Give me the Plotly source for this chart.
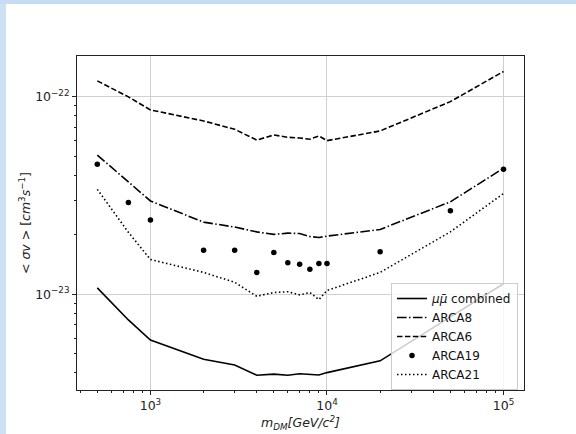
import numpy as np
import plotly.graph_objects as go

# ---- data ----
mass = [500, 750, 1000, 2000, 3000, 4000, 5000, 6000, 7000, 8000, 9000, 10000, 20000, 50000, 100000]

combined = [1.078e-23, 7.41e-24, 5.86e-24, 4.69e-24, 4.38e-24, 3.89e-24, 3.94e-24, 3.89e-24,
            3.96e-24, 3.91e-24, 3.90e-24, 4.01e-24, 4.6e-24, 7.68e-24, 1.13e-23]
arca8 = [5.07e-23, 3.71e-23, 2.97e-23, 2.32e-23, 2.19e-23, 2.07e-23, 2.01e-23, 2.04e-23,
         2.03e-23, 1.96e-23, 1.94e-23, 1.97e-23, 2.13e-23, 2.94e-23, 4.35e-23]
arca6 = [1.205e-22, 1.0e-22, 8.59e-23, 7.55e-23, 6.85e-23, 6.04e-23, 6.41e-23, 6.24e-23,
         6.19e-23, 6.1e-23, 6.34e-23, 6.0e-23, 6.72e-23, 9.46e-23, 1.345e-22]
arca19 = [4.55e-23, 2.92e-23, 2.38e-23, 1.67e-23, 1.67e-23, 1.29e-23, 1.63e-23, 1.445e-23,
          1.42e-23, 1.34e-23, 1.43e-23, 1.43e-23, 1.64e-23, 2.65e-23, 4.3e-23]
arca21 = [3.40e-23, 2.06e-23, 1.50e-23, 1.29e-23, 1.15e-23, 9.77e-24, 1.02e-23, 1.03e-23,
          9.93e-24, 1.02e-23, 9.4e-24, 1.045e-23, 1.29e-23, 2.07e-23, 3.24e-23]

x_tick_vals = [1e3, 1e4, 1e5]
x_tick_text = ["10<sup>3</sup>", "10<sup>4</sup>", "10<sup>5</sup>"]
y_tick_vals = [1e-23, 1e-22]
y_tick_text = ["10<sup>−23</sup>", "10<sup>−22</sup>"]

FONT = "DejaVu Sans"

fig = go.Figure()
fig.add_trace(go.Scatter(x=mass, y=combined, mode="lines", name="<i>μμ\u0304</i> combined",
                         line=dict(color="black", width=1.6)))
fig.add_trace(go.Scatter(x=mass, y=arca8, mode="lines", name="ARCA8",
                         line=dict(color="black", width=1.6, dash="9.6px,2.4px,1.5px,2.4px")))
fig.add_trace(go.Scatter(x=mass, y=arca6, mode="lines", name="ARCA6",
                         line=dict(color="black", width=1.6, dash="5.5px,2.4px")))
fig.add_trace(go.Scatter(x=mass, y=arca19, mode="markers", name="ARCA19",
                         marker=dict(color="black", size=5.5)))
fig.add_trace(go.Scatter(x=mass, y=arca21, mode="lines", name="ARCA21",
                         line=dict(color="black", width=1.6, dash="1.5px,2.5px")))

minor_x = [m * 10 ** e for e in range(2, 6) for m in range(2, 10)]
minor_y = [m * 10.0 ** e for e in range(-24, -21) for m in range(2, 10)]

# plot area pixel box
L, R, T, B = 77, 52, 56, 44
W, H = 576, 434
pw, ph = W - L - R, H - T - B

def px_x(px):
    return (px - L) / pw

def px_y(py):
    return 1 - (py - T) / ph

fig.update_layout(
    width=W, height=H,
    margin=dict(l=L, r=R, t=T, b=B, pad=0, autoexpand=False),
    paper_bgcolor="white", plot_bgcolor="white",
    font=dict(family=FONT, size=12, color="#222"),
    showlegend=True,
    legend=dict(x=px_x(391), y=px_y(283), xanchor="left", yanchor="top",
                bgcolor="rgba(255,255,255,0.8)", bordercolor="#cccccc", borderwidth=1,
                font=dict(family=FONT, size=12, color="#111"),
                itemwidth=30, tracegroupgap=0),
    xaxis=dict(type="log", range=[2.584, 5.116], tickvals=x_tick_vals, ticktext=x_tick_text,
               automargin=False,
               ticks="outside", ticklen=4, tickwidth=1, tickcolor="#222",
               showgrid=True, gridcolor="#d0d0d0", gridwidth=1,
               showline=True, linecolor="#222", linewidth=1, mirror=True,
               zeroline=False,
               minor=dict(tickvals=minor_x, ticks="outside", ticklen=2, tickcolor="#222",
                          showgrid=False),
               tickfont=dict(family=FONT, size=12.5, color="#222"),
               title=dict(text="<i>m<sub>DM</sub>[GeV/c<sup>2</sup>]</i>", standoff=6,
                          font=dict(family=FONT, size=12.5, color="#222"))),
    yaxis=dict(type="log", range=[-23.485, -21.793], tickvals=y_tick_vals, ticktext=y_tick_text,
               automargin=False,
               ticks="outside", ticklen=4, tickwidth=1, tickcolor="#222",
               showgrid=True, gridcolor="#d0d0d0", gridwidth=1,
               showline=True, linecolor="#222", linewidth=1, mirror=True,
               zeroline=False,
               minor=dict(tickvals=minor_y, ticks="outside", ticklen=2, tickcolor="#222",
                          showgrid=False),
               tickfont=dict(family=FONT, size=12.5, color="#222"),
               title=dict(text="&lt; <i>σv</i> &gt; [<i>cm</i><sup>3</sup><i>s</i><sup>−1</sup>]",
                          standoff=1, font=dict(family=FONT, size=12.5, color="#222"))),
    shapes=[
        dict(type="rect", xref="paper", yref="paper", layer="above",
             x0=px_x(0), x1=px_x(6), y0=px_y(434), y1=px_y(0),
             fillcolor="#cde1f4", line=dict(width=0)),
        dict(type="rect", xref="paper", yref="paper", layer="above",
             x0=px_x(0), x1=px_x(576), y0=px_y(4), y1=px_y(0),
             fillcolor="#c6dcf2", line=dict(width=0)),
    ],
)

fig.write_html("out.html", config={"displayModeBar": False},
               post_script="document.body.style.margin='0';document.body.style.overflow='hidden';")
